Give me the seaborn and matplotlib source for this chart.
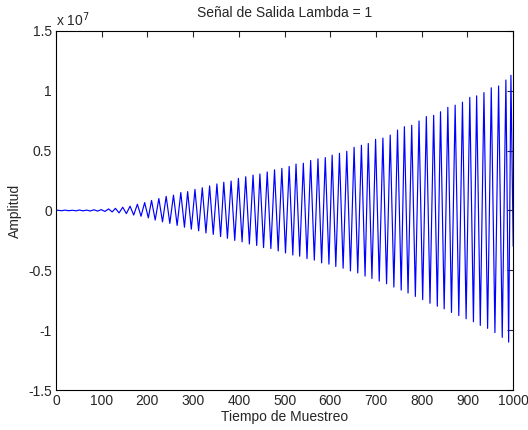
import numpy as np
import pandas as pd
import matplotlib
matplotlib.use("Agg")
import matplotlib.pyplot as plt
import seaborn as sns

# samples where the signal peaks / dips
max_n = [4, 20, 36, 51, 67, 83, 99, 115, 130, 146, 162, 178, 194, 209, 225, 241,
         257, 273, 288, 304, 320, 336, 352, 367, 383, 399, 415, 431, 446, 462, 478, 494,
         510, 525, 541, 557, 573, 589, 604, 620, 636, 652, 668, 683, 699, 715, 731, 747,
         762, 778, 794, 810, 826, 841, 857, 873, 889, 905, 920, 936, 952, 968, 984, 995]
min_n = [12, 28, 44, 59, 75, 91, 107, 123, 138, 154, 170, 186, 202, 217, 233, 249,
         265, 281, 296, 312, 328, 344, 360, 375, 391, 407, 423, 439, 454, 470, 486, 502,
         518, 533, 549, 565, 581, 597, 612, 628, 644, 660, 676, 691, 707, 723, 739, 755,
         770, 786, 802, 818, 834, 849, 865, 881, 897, 913, 928, 944, 960, 976, 990, 1000]

# peak values, units of 1e7
max_val = [0.002, 0.003, 0.002, 0.004, 0.003, 0.006, 0.007, 0.013, 0.018, 0.027, 0.036, 0.052,
           0.066, 0.084, 0.100, 0.118, 0.128, 0.150, 0.158, 0.176, 0.190, 0.205, 0.222, 0.236,
           0.246, 0.268, 0.282, 0.296, 0.305, 0.322, 0.340, 0.352, 0.368, 0.388, 0.395, 0.418,
           0.432, 0.442, 0.462, 0.478, 0.495, 0.528, 0.545, 0.560, 0.595, 0.605, 0.630, 0.672,
           0.700, 0.712, 0.748, 0.785, 0.795, 0.825, 0.862, 0.880, 0.905, 0.945, 0.958, 0.985,
           1.025, 1.040, 1.090, 1.130]
min_val = [-0.002, -0.002, -0.003, -0.003, -0.004, -0.005, -0.008, -0.012, -0.020, -0.026, -0.038, -0.048,
           -0.062, -0.080, -0.095, -0.108, -0.125, -0.140, -0.156, -0.170, -0.188, -0.200, -0.218, -0.232,
           -0.250, -0.262, -0.280, -0.292, -0.310, -0.318, -0.338, -0.355, -0.372, -0.382, -0.402, -0.415,
           -0.438, -0.448, -0.468, -0.482, -0.505, -0.522, -0.548, -0.568, -0.590, -0.612, -0.640, -0.665,
           -0.690, -0.718, -0.745, -0.775, -0.800, -0.822, -0.852, -0.878, -0.905, -0.930, -0.960, -0.985,
           -1.020, -1.060, -1.100, -0.300]

df = pd.DataFrame({"n": max_n + min_n, "y": max_val + min_val}).sort_values("n")
df = pd.concat([pd.DataFrame({"n": [0], "y": [0.0]}), df], ignore_index=True)

sns.set_style("white")
plt.rcParams["font.family"] = ["Liberation Sans", "DejaVu Sans"]

fig = plt.figure(figsize=(5.28, 4.30), dpi=100)
ax = fig.add_axes([0.106, 0.093, 0.866, 0.835])

sns.lineplot(data=df, x="n", y="y", ax=ax, color="#0000ff", lw=0.85,
             estimator=None, sort=False)

ax.set_xlim(0, 1000)
ax.set_ylim(-1.5, 1.5)
ax.set_xticks(range(0, 1001, 100))
ax.set_yticks([-1.5, -1, -0.5, 0, 0.5, 1, 1.5])
ax.set_yticklabels(["-1.5", "-1", "-0.5", "0", "0.5", "1", "1.5"])
ax.tick_params(direction="in", length=4, width=0.8, top=True, right=True,
               labelsize=10, pad=3)
for s in ax.spines.values():
    s.set_color("black")
    s.set_linewidth(0.8)

ax.set_xlabel("Tiempo de Muestreo", fontsize=10, labelpad=1)
ax.set_ylabel("Amplitud", fontsize=10, labelpad=4)
ax.set_title("Señal de Salida Lambda = 1", fontsize=10, pad=10)
ax.text(0.0, 1.005, "x 10$^{7}$", transform=ax.transAxes, fontsize=10,
        ha="left", va="bottom")

fig.savefig("out.png", dpi=100)
